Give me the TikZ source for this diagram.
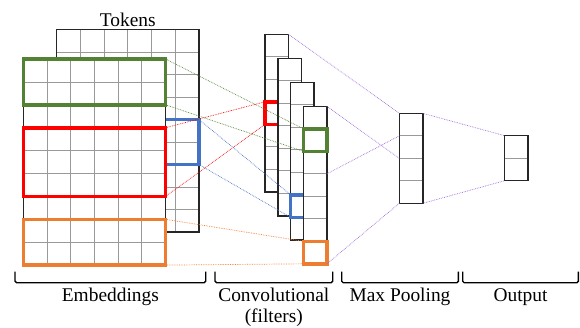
\documentclass[tikz,border=0pt]{standalone}
\usepackage{fontspec}
\setmainfont{Liberation Serif}
\newfontfamily\lblfont{Liberation Serif}
\usepackage{xcolor}
\usetikzlibrary{positioning}

\definecolor{hlgreen}{RGB}{84,130,53}
\definecolor{hlred}{RGB}{255,0,0}
\definecolor{hlblue}{RGB}{68,114,196}
\definecolor{hlorange}{RGB}{237,125,49}
\definecolor{hlpurple}{RGB}{155,105,215}

\begin{document}
\begin{tikzpicture}[
  x=1pt, y=-1pt,
  every node/.style={inner sep=0pt, outer sep=0pt, font=\lblfont\fontsize{19.4}{21}\selectfont},
  cell/.style={draw=black!40, line width=0.8pt, fill=white, minimum width=23.5pt, minimum height=22.5pt},
  boxline/.style={draw=black!85, line width=1.5pt},
  gridline/.style={draw=black!40, line width=0.8pt},
  hlbox/.style={line width=3.6pt, minimum width=23.5pt, minimum height=22.5pt},
  link/.style={densely dotted, line width=0.7pt},
  brak/.style={line width=1.4pt, rounded corners=1.5pt}
]
\useasboundingbox (0,0) rectangle (580,327);

% tokens (back matrix)
\node[anchor=north west, minimum width=142.2pt, minimum height=202.5pt] (bk) at (56.7,29.5) {};
\foreach \i in {1,...,5} \draw[gridline] (56.7+23.7*\i,29.5) -- ++(0,202.5);
\foreach \j in {1,...,8} \draw[gridline] (56.7,29.5+22.5*\j) -- ++(142.2,0);
\draw[boxline] (bk.north west) rectangle (bk.south east);
\node[above=3.3pt of bk] (tok) {Tokens};
\node[hlbox, draw=hlblue, anchor=north west, minimum width=142.2pt, minimum height=45pt] (bE) at (56.7,119.5) {};

% embeddings (front matrix)
\node[anchor=north west, fill=white, minimum width=142.2pt, minimum height=206.1pt] (fr) at (23.3,59) {};
\foreach \i in {1,...,5} \draw[gridline] (23.3+23.7*\i,59) -- ++(0,206.1);
\foreach \j in {1,...,8} \draw[gridline] (23.3,59+22.9*\j) -- ++(142.2,0);
\draw[boxline] (fr.north west) rectangle (fr.south east);
\node[hlbox, draw=hlgreen, anchor=north west, minimum width=142.2pt, minimum height=45.8pt] (gE) at (23.3,59) {};
\node[hlbox, draw=hlred, anchor=north west, minimum width=142.2pt, minimum height=68.7pt] (rE) at (23.3,127.7) {};
\node[hlbox, draw=hlorange, anchor=north west, minimum width=142.2pt, minimum height=45.8pt] (oE) at (23.3,219.3) {};

% filters
\foreach \k in {0,...,3} {
  \foreach \r in {0,...,6}
    \node[cell, anchor=north west] (f\k-\r) at (265+12.8*\k, 34.3+24*\k+22.5*\r) {};
  \draw[boxline] (f\k-0.north west) rectangle (f\k-6.south east);
  \ifcase\k \node[hlbox, draw=hlred] (rF) at (f0-3) {};
  \or
  \or \node[hlbox, draw=hlblue] (bF) at (f2-5) {};
  \fi
}
\node[hlbox, draw=hlgreen] (gF) at (f3-1) {};
\node[hlbox, draw=hlorange] (oF) at (f3-6) {};

% max pooling
\foreach \r in {0,...,3} \node[cell, anchor=north west] (p\r) at (399.3,113.3+22.5*\r) {};
\draw[boxline] (p0.north west) rectangle (p3.south east);

% output
\foreach \r in {0,1} \node[cell, anchor=north west] (o\r) at (504.7,135.7+22.5*\r) {};
\draw[boxline] (o0.north west) rectangle (o1.south east);

% links
\draw[link, hlgreen] (gE.north east) -- (gF.north west);
\draw[link, hlgreen] (gE.south east) -- (gF.south west);
\draw[link, hlred] (rE.north east) -- (rF.north west);
\draw[link, hlred] (rE.south east) -- (rF.south west);
\draw[link, hlblue] (bE.north east) -- (bF.north west);
\draw[link, hlblue] (bE.south east) -- (bF.south west);
\draw[link, hlorange] (oE.north east) -- (oF.north west);
\draw[link, hlorange] (oE.south east) -- (oF.south west);
\draw[link, hlpurple] (f0-0.north east) -- (p0.north west);
\draw[link, hlpurple] (f3-0.north east) -- (p2.north west);
\draw[link, hlpurple] (f3-3.north east) -- (p1.north west);
\draw[link, hlpurple] (f3-6.south east) -- (p3.south west);
\draw[link, hlpurple] (p0.north east) -- (o0.north west);
\draw[link, hlpurple] (p3.south east) -- (o1.south west);

% brackets and labels
\foreach \a/\b/\n in {15/205.7/emb, 215/332.7/conv, 341.7/458.3/pool, 462.7/578.3/out}
  \draw[brak] (\a,271.7) -- (\a,282.7) -- coordinate (br\n) (\b,282.7) -- (\b,271.7);
\node[below=5.6pt of bremb] (lemb) {Embeddings};
\node[below=5.6pt of brconv, align=center] (lconv) {Convolutional\\(filters)};
\node[below=5.6pt of brpool] (lpool) {Max Pooling};
\node[below=5.6pt of brout] (lout) {Output};
\end{tikzpicture}
\end{document}
